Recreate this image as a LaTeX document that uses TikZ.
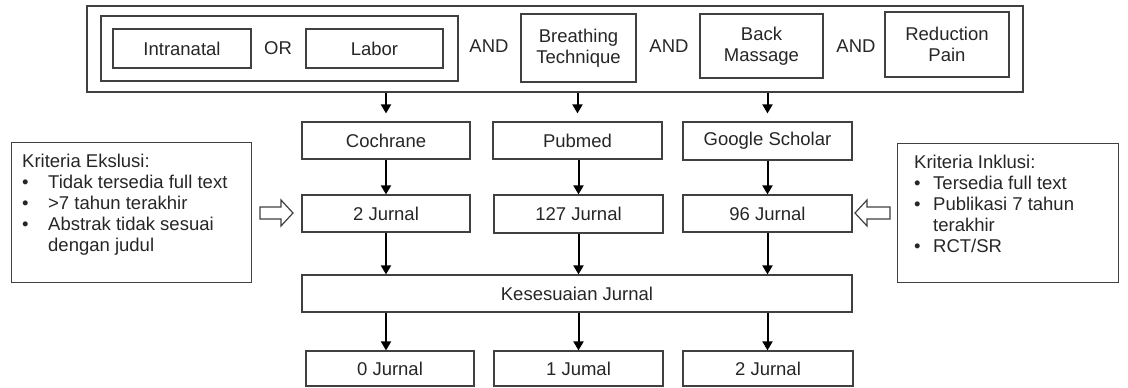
\documentclass[tikz,border=0pt]{standalone}
\usepackage{fontspec}
\setmainfont{Liberation Sans}
\usetikzlibrary{arrows.meta}
\newcommand{\bul}[1]{\makebox[#1][l]{\textbullet}}

\begin{document}
\begin{tikzpicture}[x=1pt, y=-1pt,
  box/.style={draw=black!75, line width=1.2pt, inner sep=0pt, align=center, text=black!85, font=\fontsize{18.5}{21}\selectfont},
  word/.style={inner sep=0pt, text=black!85, font=\fontsize{18.5}{21}\selectfont},
  list/.style={inner sep=0pt, align=left, text=black!85, font=\fontsize{18.5}{21}\selectfont},
  arr/.style={-{Triangle[length=9pt,width=10pt]}, line width=2pt},
  hollow/.style={draw=black!75, line width=1.2pt, fill=white}]
\useasboundingbox (0,0) rectangle (1128,388);

\node[box, minimum width=936pt, minimum height=86pt] (search) at (555,49) {};
\node[box, minimum width=357pt, minimum height=65pt] (population) at (279.5,48.5) {};
\node[box, minimum width=138pt, minimum height=39pt] (intranatal) at (182,48.5) {Intranatal};
\node[word] (or) at (278,48) {OR};
\node[box, minimum width=137pt, minimum height=39pt] (labor) at (374.5,48.5) {Labor};
\node[word] (and1) at (489,46) {AND};
\node[box, minimum width=115pt, minimum height=68pt] (breathing) at (578.5,48) {Breathing\\Technique};
\node[word] (and2) at (669,46) {AND};
\node[box, minimum width=123pt, minimum height=64pt] (massage) at (761.5,46) {Back\\Massage};
\node[word] (and3) at (856,46) {AND};
\node[box, minimum width=124pt, minimum height=65pt] (pain) at (947,44.5) {Reduction\\Pain};

\node[box, minimum width=168pt, minimum height=37pt] (cochrane) at (386,140.5) {Cochrane};
\node[box, minimum width=169pt, minimum height=37pt] (pubmed) at (577.5,140.5) {Pubmed};
\node[box, minimum width=169pt, minimum height=38pt] (scholar) at (767.5,141) {Google Scholar};

\node[box, minimum width=168pt, minimum height=37pt] (res2) at (386,213.5) {2 Jurnal};
\node[box, minimum width=169pt, minimum height=38pt] (res127) at (578.5,214) {127 Jurnal};
\node[box, minimum width=169pt, minimum height=37pt] (res96) at (767.5,213.5) {96 Jurnal};

\node[box, minimum width=550pt, minimum height=37pt] (match) at (577,293.5) {Kesesuaian Jurnal};

\node[box, minimum width=168pt, minimum height=35pt] (fin0) at (390,368.5) {0 Jurnal};
\node[box, minimum width=169pt, minimum height=35pt] (fin1) at (578.5,368.5) {1 Jumal};
\node[box, minimum width=170pt, minimum height=35pt] (fin2) at (768,368.5) {2 Jurnal};

\node[box, anchor=north west, minimum width=240pt, minimum height=140pt] (exclusion) at (11,142) {};
\node[list, anchor=north west] (exclist) at ([xshift=11pt,yshift=-12pt]exclusion.north west)
  {Kriteria Ekslusi:\\
   \bul{26pt}Tidak tersedia full text\\
   \bul{26pt}>7 tahun terakhir\\
   \bul{26pt}Abstrak tidak sesuai\\
   \hspace*{26pt}dengan judul};

\node[box, anchor=north west, minimum width=221pt, minimum height=139pt] (inclusion) at (897,143) {};
\node[list, anchor=north west] (inclist) at ([xshift=17pt,yshift=-12pt]inclusion.north west)
  {Kriteria Inklusi:\\
   \bul{19pt}Tersedia full text\\
   \bul{19pt}Publikasi 7 tahun\\
   \hspace*{19pt}terakhir\\
   \bul{19pt}RCT/SR};

\draw[arr, shorten >=8pt] (search.south -| cochrane) -- (cochrane);
\draw[arr, shorten >=8pt] (search.south -| pubmed) -- (pubmed);
\draw[arr, shorten >=8pt] (search.south -| scholar) -- (scholar);
\draw[arr] (cochrane) -- (res2);
\draw[arr] (pubmed.south -| res127) -- (res127);
\draw[arr] (scholar) -- (res96);
\draw[arr] (res2.south) -- (match.north -| res2);
\draw[arr] (res127.south) -- (match.north -| res127);
\draw[arr] (res96.south) -- (match.north -| res96);
\draw[arr] (match.south -| res2) -- (fin0.north -| res2);
\draw[arr] (match.south -| res127) -- (fin1.north -| res127);
\draw[arr] (match.south -| res96) -- (fin2.north -| res96);

\draw[hollow] (260,207) -- (281,207) -- (281,200) -- (293,213) -- (281,226) -- (281,219) -- (260,219) -- cycle;
\draw[hollow] (890,207) -- (867,207) -- (867,200) -- (855,213) -- (867,226) -- (867,219) -- (890,219) -- cycle;

\end{tikzpicture}
\end{document}
